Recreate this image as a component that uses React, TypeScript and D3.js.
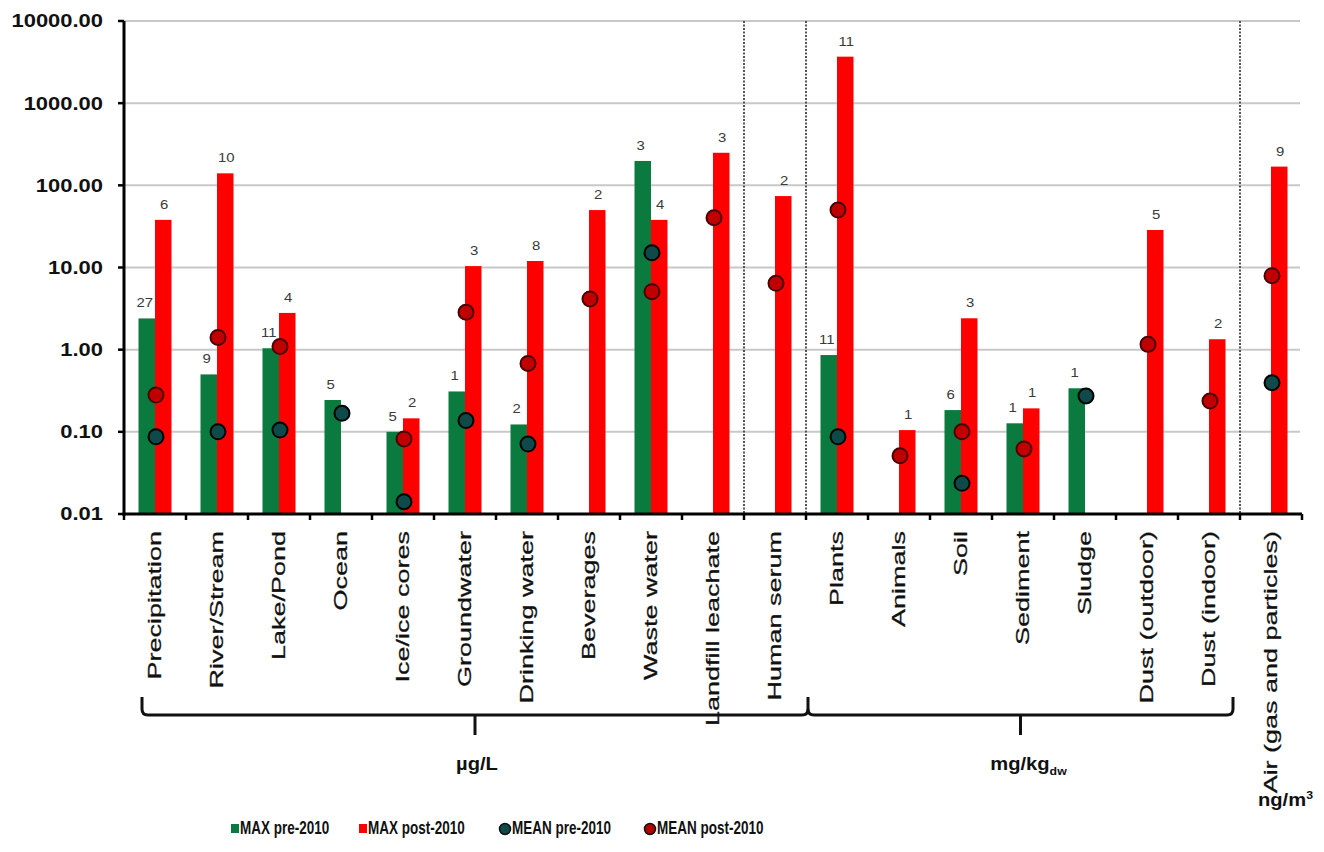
import React from "react";
import * as d3 from "d3";

const categories = [
  "Precipitation", "River/Stream", "Lake/Pond", "Ocean", "Ice/ice cores",
  "Groundwater", "Drinking water", "Beverages", "Waste water", "Landfill leachate",
  "Human serum", "Plants", "Animals", "Soil", "Sediment", "Sludge",
  "Dust (outdoor)", "Dust (indoor)", "Air (gas and particles)",
];
const maxPre: (number | null)[] = [2.4, 0.5, 1.04, 0.244, 0.1, 0.31, 0.123, null, 198, null, null, 0.86, null, 0.184, 0.127, 0.339, null, null, null];
const maxPost: (number | null)[] = [38, 140, 2.8, null, 0.146, 10.4, 12, 50, 38, 249, 74, 3680, 0.105, 2.41, 0.193, null, 28.6, 1.34, 169];
const meanPre: (number | null)[] = [0.087, 0.1, 0.105, 0.168, 0.0141, 0.137, 0.071, null, 15.1, null, null, 0.087, null, 0.0236, null, 0.273, null, null, 0.396];
const meanPost: (number | null)[] = [0.28, 1.41, 1.09, null, 0.082, 2.85, 0.68, 4.14, 5.08, 40.4, 6.42, 50, 0.051, 0.1, 0.062, null, 1.16, 0.237, 7.95];
const nPre: (number | null)[] = [27, 9, 11, 5, 5, 1, 2, null, 3, null, null, 11, null, 6, 1, 1, null, null, null];
const nPost: (number | null)[] = [6, 10, 4, null, 2, 3, 8, 2, 4, 3, 2, 11, 1, 3, 1, null, 5, 2, 9];
const yTicks = [0.01, 0.1, 1, 10, 100, 1000, 10000];
const dividerAfter = [10, 11, 18];
const units = [
  { label: "µg/L", from: 0, to: 10 },
  { label: "mg/kg", sub: "dw", from: 11, to: 17 },
];
const legendItems = [
  { label: "MAX pre-2010", kind: "rect", color: "#0b7a3e" },
  { label: "MAX post-2010", kind: "rect", color: "#ff0000" },
  { label: "MEAN pre-2010", kind: "circle", color: "#0e4a4a" },
  { label: "MEAN post-2010", kind: "circle", color: "#b30000" },
];

const W = 1324, H = 852;
const left = 124, right = 1302, top = 21, bottom = 514;
const FONT = "'Liberation Sans', Arial, sans-serif";
const GREEN = "#0b7a3e", RED = "#ff0000";

export default function App() {
  const x = d3.scaleBand<string>().domain(categories).range([left, right]).padding(0);
  const y = d3.scaleLog().domain([0.01, 10000]).range([bottom, top]);
  const bw = 16.5;
  const cx = (i: number) => (x(categories[i]) as number) + x.bandwidth() / 2;
  const boundaries = d3.range(categories.length + 1).map((i) => left + i * x.bandwidth());
  const fmt = d3.format(".2f");

  const bracketY = 715;
  const hookTop = 697;
  const bL = cx(0) - 13;
  const bM = boundaries[11] + 2;
  const bR = boundaries[18] - 7;

  return (
    <svg width={W} height={H} style={{ position: "absolute", left: 0, top: 0, background: "#fff" }} fontFamily={FONT}>
      {/* grid */}
      {yTicks.slice(1).map((t) => (
        <line key={"g" + t} x1={left} x2={1300} y1={y(t)} y2={y(t)} stroke="#c8c8c8" strokeWidth={2} />
      ))}
      {/* dotted dividers */}
      {dividerAfter.map((i) => (
        <line key={"d" + i} x1={boundaries[i]} x2={boundaries[i]} y1={top} y2={bottom} stroke="#444" strokeWidth={1.8} strokeDasharray="2,1.5" />
      ))}
      {/* bars */}
      {categories.map((c, i) => (
        <g key={"b" + c}>
          {maxPre[i] != null && (
            <rect x={cx(i) - bw} y={y(maxPre[i] as number)} width={bw} height={bottom - y(maxPre[i] as number)} fill={GREEN} />
          )}
          {maxPost[i] != null && (
            <rect x={cx(i)} y={y(maxPost[i] as number)} width={bw} height={bottom - y(maxPost[i] as number)} fill={RED} />
          )}
        </g>
      ))}
      {/* count labels */}
      {categories.map((c, i) => (
        <g key={"n" + c} fontSize={13} fill="#3a3a3a" textAnchor="middle">
          {nPre[i] != null && maxPre[i] != null && (
            <text transform={`translate(${cx(i) - bw / 2 - 2},${y(maxPre[i] as number) - 11}) scale(1.15,1.05)`}>{nPre[i]}</text>
          )}
          {nPost[i] != null && maxPost[i] != null && (
            <text transform={`translate(${cx(i) + bw / 2 + 1},${y(maxPost[i] as number) - 11}) scale(1.15,1.05)`}>{nPost[i]}</text>
          )}
        </g>
      ))}
      {/* mean points */}
      {categories.map((c, i) => (
        <g key={"m" + c}>
          {meanPost[i] != null && (
            <circle cx={cx(i) + 1} cy={y(meanPost[i] as number)} r={7.5} fill="#c00000" stroke="#4a0000" strokeWidth={2} />
          )}
          {meanPre[i] != null && (
            <circle cx={cx(i) + 1} cy={y(meanPre[i] as number)} r={7.5} fill="#0e4a4a" stroke="#000" strokeWidth={2} />
          )}
        </g>
      ))}
      {/* axes */}
      <line x1={left} x2={left} y1={top} y2={bottom + 1.5} stroke="#000" strokeWidth={3} />
      <line x1={left - 1.5} x2={right} y1={bottom} y2={bottom} stroke="#000" strokeWidth={3} />
      {yTicks.map((t) => (
        <g key={"yt" + t}>
          <line x1={left - 6} x2={left} y1={y(t)} y2={y(t)} stroke="#000" strokeWidth={2.5} />
          <text transform={`translate(103,${y(t)}) scale(1.22,1)`} textAnchor="end" dy="0.36em" fontSize={18} fontWeight="bold" fill="#111">
            {fmt(t)}
          </text>
        </g>
      ))}
      {boundaries.map((b, i) => (
        <line key={"xt" + i} x1={b} x2={b} y1={bottom} y2={bottom + 6} stroke="#000" strokeWidth={2.5} />
      ))}
      {/* category labels */}
      {categories.map((c, i) => (
        <text key={"cl" + c} transform={`translate(${cx(i)},531) scale(1,1.42) rotate(-90)`} textAnchor="end" dy="0.3em" fontSize={19} fill="#111" stroke="#111" strokeWidth={0.25}>
          {c}
        </text>
      ))}
      {/* brackets */}
      <g fill="none" stroke="#111" strokeWidth={3}>
        <path d={`M${bL},${hookTop} L${bL},${bracketY - 6} Q${bL},${bracketY} ${bL + 6},${bracketY} L${bM - 6},${bracketY} Q${bM},${bracketY} ${bM},${bracketY - 6} L${bM},${hookTop}`} />
        <path d={`M${bM},${bracketY - 6} Q${bM},${bracketY} ${bM + 6},${bracketY} L${bR - 6},${bracketY} Q${bR},${bracketY} ${bR},${bracketY - 6} L${bR},${hookTop}`} />
        {units.map((u) => {
          const mx = u.from === 0 ? (bL + bM) / 2 : (bM + bR) / 2;
          return <path key={"bt" + u.label} d={`M${mx},${bracketY} L${mx},${bracketY + 20}`} />;
        })}
      </g>
      {/* unit labels */}
      {units.map((u) => {
        const mx = u.from === 0 ? (bL + bM) / 2 + 2 : (bM + bR) / 2 + 8;
        return (
          <text key={"ul" + u.label} transform={`translate(${mx},770) scale(1.12,1.05)`} textAnchor="middle" fontSize={18} fontWeight="bold" fill="#111">
            {u.label}
            {u.sub && (
              <tspan fontSize={11} dy={5}>{u.sub}</tspan>
            )}
          </text>
        );
      })}
      <text transform="translate(1258,806) scale(1.12,1.05)" fontSize={18} fontWeight="bold" fill="#111">
        ng/m<tspan fontSize={11} dy={-7}>3</tspan>
      </text>
      {/* legend */}
      {legendItems.map((l, i) => {
        const lx = [231, 359, 503, 648][i];
        return (
          <g key={"lg" + l.label}>
            {l.kind === "rect" ? (
              <rect x={lx} y={824} width={8} height={9} fill={l.color} />
            ) : (
              <circle cx={lx + 2} cy={829} r={5.5} fill={l.color} stroke="#111" strokeWidth={1.5} />
            )}
            <text transform={`translate(${lx + 9},834) scale(1,1.32)`} fontSize={13.5} fontWeight="bold" fill="#111">{l.label}</text>
          </g>
        );
      })}
    </svg>
  );
}
